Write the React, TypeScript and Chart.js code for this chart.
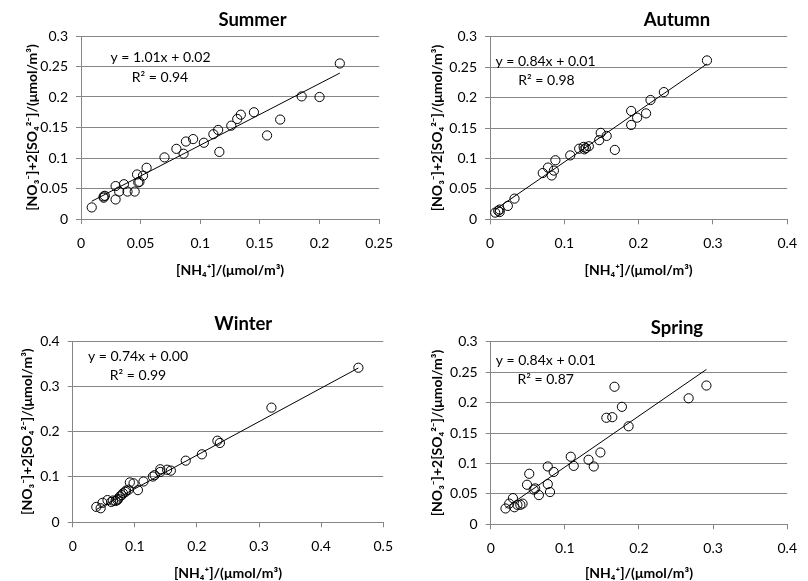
import React, { useEffect, useRef } from "react";
import { Chart, registerables } from "chart.js";
Chart.register(...registerables);

// ---------- data ----------
const summerX = [0.009, 0.019, 0.019, 0.020, 0.029, 0.029, 0.032, 0.036, 0.039, 0.045, 0.047, 0.048, 0.049, 0.052, 0.055, 0.070, 0.080, 0.086, 0.088, 0.094, 0.103, 0.111, 0.115, 0.116, 0.126, 0.131, 0.134, 0.145, 0.156, 0.167, 0.185, 0.200, 0.217];
const summerY = [0.019, 0.035, 0.037, 0.038, 0.054, 0.032, 0.045, 0.057, 0.045, 0.045, 0.073, 0.060, 0.061, 0.071, 0.084, 0.101, 0.115, 0.107, 0.127, 0.131, 0.125, 0.139, 0.146, 0.110, 0.153, 0.164, 0.171, 0.175, 0.137, 0.163, 0.201, 0.200, 0.255];
const summerFit = [1.01, 0.02];
const summerEq = ["y = 1.01x + 0.02", "R\u00B2 = 0.94"];
const summerXTicks = [0, 0.05, 0.1, 0.15, 0.2, 0.25];
const summerYTicks = [0, 0.05, 0.1, 0.15, 0.2, 0.25, 0.3];

const autumnX = [0.007, 0.011, 0.013, 0.013, 0.024, 0.033, 0.071, 0.078, 0.083, 0.086, 0.088, 0.108, 0.120, 0.126, 0.127, 0.129, 0.133, 0.147, 0.149, 0.157, 0.168, 0.190, 0.190, 0.198, 0.210, 0.216, 0.234, 0.292];
const autumnY = [0.011, 0.014, 0.016, 0.012, 0.022, 0.034, 0.076, 0.085, 0.072, 0.080, 0.097, 0.105, 0.116, 0.119, 0.115, 0.117, 0.120, 0.130, 0.142, 0.137, 0.114, 0.178, 0.155, 0.167, 0.174, 0.196, 0.209, 0.261];
const autumnFit = [0.84, 0.01];
const autumnEq = ["y = 0.84x + 0.01", "R\u00B2 = 0.98"];
const autumnXTicks = [0, 0.1, 0.2, 0.3, 0.4];
const autumnYTicks = [0, 0.05, 0.1, 0.15, 0.2, 0.25, 0.3];

const winterX = [0.038, 0.045, 0.048, 0.056, 0.062, 0.065, 0.069, 0.072, 0.073, 0.076, 0.079, 0.081, 0.085, 0.086, 0.090, 0.092, 0.098, 0.105, 0.114, 0.129, 0.132, 0.141, 0.141, 0.152, 0.158, 0.182, 0.208, 0.233, 0.237, 0.320, 0.460];
const winterY = [0.034, 0.031, 0.043, 0.049, 0.045, 0.048, 0.047, 0.049, 0.052, 0.057, 0.060, 0.064, 0.067, 0.070, 0.072, 0.088, 0.086, 0.071, 0.090, 0.101, 0.104, 0.117, 0.111, 0.116, 0.114, 0.136, 0.150, 0.180, 0.175, 0.253, 0.341];
const winterFit = [0.74, 0.0];
const winterEq = ["y = 0.74x + 0.00", "R\u00B2 = 0.99"];
const winterXTicks = [0, 0.1, 0.2, 0.3, 0.4, 0.5];
const winterYTicks = [0, 0.1, 0.2, 0.3, 0.4];

const springX = [0.020, 0.025, 0.030, 0.032, 0.036, 0.040, 0.043, 0.049, 0.052, 0.058, 0.060, 0.065, 0.077, 0.077, 0.080, 0.085, 0.108, 0.112, 0.132, 0.139, 0.148, 0.156, 0.164, 0.167, 0.177, 0.186, 0.267, 0.291];
const springY = [0.026, 0.034, 0.043, 0.028, 0.032, 0.032, 0.034, 0.065, 0.083, 0.057, 0.059, 0.048, 0.095, 0.066, 0.053, 0.086, 0.111, 0.096, 0.106, 0.095, 0.118, 0.175, 0.176, 0.226, 0.193, 0.161, 0.207, 0.228];
const springFit = [0.84, 0.01];
const springEq = ["y = 0.84x + 0.01", "R\u00B2 = 0.87"];
const springXTicks = [0, 0.1, 0.2, 0.3, 0.4];
const springYTicks = [0, 0.05, 0.1, 0.15, 0.2, 0.25, 0.3];

const xTitle = "[NH\u2084\u207A]/(\u03BCmol/m\u00B3)";
const yTitle = "[NO\u2083\u207B]+2[SO\u2084\u00B2\u207B]/(\u03BCmol/m\u00B3)";

// ---------- layout ----------
type Panel = {
  name: string;
  xs: number[];
  ys: number[];
  fit: number[];
  eq: string[];
  xTicks: number[];
  yTicks: number[];
  left: number; top: number; w: number; h: number;
  area: { l: number; t: number; r: number; b: number };
  titlePos: [number, number];
  eqPos: [number, number, number, number];
  yTitlePad: number;
  xTitlePad: number;
};

const panels: Panel[] = [
  {
    name: "Summer", xs: summerX, ys: summerY, fit: summerFit, eq: summerEq,
    xTicks: summerXTicks, yTicks: summerYTicks,
    left: 0, top: 0, w: 404, h: 290,
    area: { l: 81, t: 36, r: 383, b: 219 },
    titlePos: [252.5, 20], eqPos: [160.5, 57, 160, 77], yTitlePad: 24, xTitlePad: 11.6,
  },
  {
    name: "Autumn", xs: autumnX, ys: autumnY, fit: autumnFit, eq: autumnEq,
    xTicks: autumnXTicks, yTicks: autumnYTicks,
    left: 404, top: 0, w: 404, h: 290,
    area: { l: 86, t: 36.7, r: 393, b: 219.3 },
    titlePos: [273, 20.5], eqPos: [141.5, 61.5, 142.5, 80], yTitlePad: 25, xTitlePad: 11,
  },
  {
    name: "Winter", xs: winterX, ys: winterY, fit: winterFit, eq: winterEq,
    xTicks: winterXTicks, yTicks: winterYTicks,
    left: 0, top: 290, w: 404, h: 291,
    area: { l: 72.7, t: 51, r: 386, b: 232.3 },
    titlePos: [243.3, 33.7], eqPos: [138, 66, 138, 85], yTitlePad: 19, xTitlePad: -1,
  },
  {
    name: "Spring", xs: springX, ys: springY, fit: springFit, eq: springEq,
    xTicks: springXTicks, yTicks: springYTicks,
    left: 404, top: 290, w: 404, h: 291,
    area: { l: 86.7, t: 51.7, r: 392.7, b: 234.3 },
    titlePos: [273, 38.5], eqPos: [141.7, 70.5, 141.7, 89], yTitlePad: 25, xTitlePad: -1,
  },
];

const FONT = "Lato, 'Open Sans', sans-serif";
const GRID = "#868686";
const fmt = (v: number) => String(Number(Number(v).toFixed(4)));

function buildChart(canvas: HTMLCanvasElement, p: Panel): Chart {
  const points = p.xs.map((x, i) => ({ x, y: p.ys[i] }));
  const xmin = Math.min(...p.xs);
  const xmax = Math.max(...p.xs);
  const trend = [
    { x: xmin, y: p.fit[0] * xmin + p.fit[1] },
    { x: xmax, y: p.fit[0] * xmax + p.fit[1] },
  ];
  const textPlugin = {
    id: "panelText" + p.name,
    afterDraw(chart: Chart) {
      const ctx = chart.ctx;
      ctx.save();
      ctx.fillStyle = "#000";
      ctx.textAlign = "center";
      ctx.textBaseline = "middle";
      ctx.font = `bold 18.5px ${FONT}`;
      ctx.fillText(p.name, p.titlePos[0], p.titlePos[1]);
      ctx.font = `14px ${FONT}`;
      ctx.fillText(p.eq[0], p.eqPos[0], p.eqPos[1]);
      ctx.fillText(p.eq[1], p.eqPos[2], p.eqPos[3]);
      ctx.restore();
    },
  };
  return new Chart(canvas, {
    type: "scatter",
    data: {
      datasets: [
        {
          data: trend,
          showLine: true,
          borderColor: "#000",
          borderWidth: 1,
          pointRadius: 0,
          fill: false,
        } as any,
        {
          data: points,
          pointStyle: "circle",
          pointRadius: 4.6,
          borderColor: "#000",
          borderWidth: 1,
          backgroundColor: "rgba(0,0,0,0)",
        },
      ],
    },
    options: {
      responsive: false,
      animation: false,
      devicePixelRatio: 1,
      events: [],
      layout: {
        padding: { left: 0, bottom: 0, top: p.area.t, right: p.w - p.area.r },
      },
      plugins: {
        legend: { display: false },
        title: { display: false },
        tooltip: { enabled: false },
      },
      scales: {
        x: {
          type: "linear",
          min: p.xTicks[0],
          max: p.xTicks[p.xTicks.length - 1],
          afterBuildTicks: (scale: any) => {
            scale.ticks = p.xTicks.map((v) => ({ value: v }));
          },
          afterFit: (scale: any) => {
            scale.height = p.h - p.area.b;
          },
          grid: { drawOnChartArea: false, drawTicks: true, tickLength: 5, color: GRID },
          border: { display: true, color: GRID, width: 1 },
          ticks: {
            padding: 11,
            color: "#000",
            font: { family: FONT, size: 14 },
            maxRotation: 0,
            autoSkip: false,
            callback: (v: any) => fmt(v),
          },
          title: {
            display: true,
            text: xTitle,
            color: "#000",
            font: { family: FONT, size: 14, weight: "bold" },
            padding: { top: 0, bottom: p.xTitlePad },
          },
        },
        y: {
          type: "linear",
          min: p.yTicks[0],
          max: p.yTicks[p.yTicks.length - 1],
          afterBuildTicks: (scale: any) => {
            scale.ticks = p.yTicks.map((v) => ({ value: v }));
          },
          afterFit: (scale: any) => {
            scale.width = p.area.l;
          },
          grid: { color: GRID, drawTicks: true, tickLength: 5, lineWidth: 1 },
          border: { display: true, color: GRID, width: 1 },
          ticks: {
            padding: 8,
            color: "#000",
            font: { family: FONT, size: 14 },
            autoSkip: false,
            callback: (v: any) => fmt(v),
          },
          title: {
            display: true,
            text: yTitle,
            color: "#000",
            font: { family: FONT, size: 14, weight: "bold" },
            padding: { top: p.yTitlePad, bottom: 0 },
          },
        },
      },
    } as any,
    plugins: [textPlugin],
  });
}

export default function App() {
  const refs = useRef<(HTMLCanvasElement | null)[]>([]);
  useEffect(() => {
    const charts: Chart[] = [];
    panels.forEach((p, i) => {
      const c = refs.current[i];
      if (c) charts.push(buildChart(c, p));
    });
    return () => charts.forEach((c) => c.destroy());
  }, []);
  return (
    <div
      style={{
        position: "absolute",
        left: 0,
        top: 0,
        width: 808,
        height: 581,
        background: "#fff",
        overflow: "hidden",
      }}
    >
      {panels.map((p, i) => (
        <canvas
          key={p.name}
          ref={(el) => {
            refs.current[i] = el;
          }}
          width={p.w}
          height={p.h}
          style={{ position: "absolute", left: p.left, top: p.top, width: p.w, height: p.h }}
        />
      ))}
    </div>
  );
}
